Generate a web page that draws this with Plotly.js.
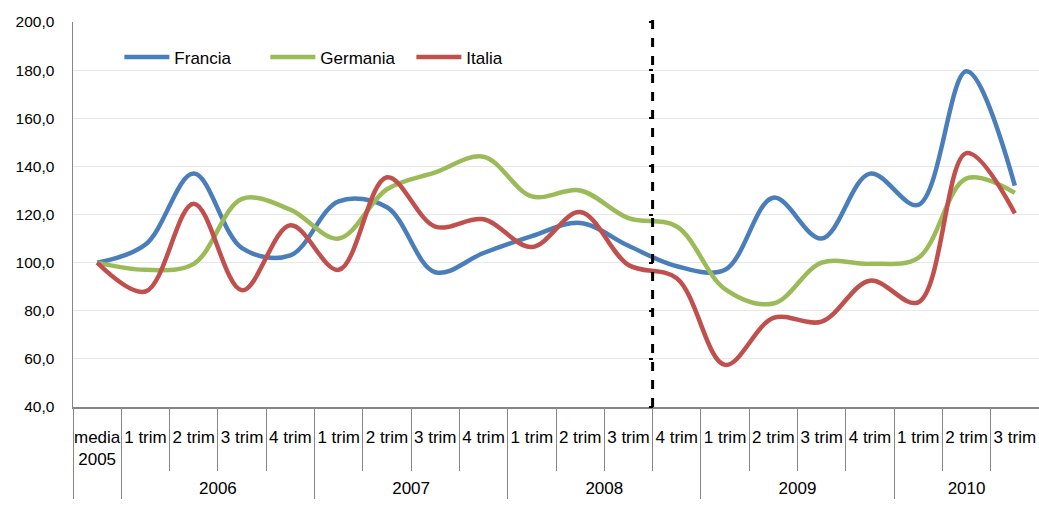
<!DOCTYPE html>
<html><head><meta charset="utf-8">
<script src="https://cdn.plot.ly/plotly-3.0.1.min.js"></script>
<style>html,body{margin:0;padding:0;background:#fff}#chart{width:1039px;height:510px}</style>
</head><body><div id="chart"></div>
<script>
const years = [" ", "2006","2006","2006","2006","2007","2007","2007","2007","2008","2008","2008","2008","2009","2009","2009","2009","2010","2010","2010"];
const quarters = ["media<br>2005","1 trim","2 trim","3 trim","4 trim","1 trim","2 trim","3 trim","4 trim","1 trim","2 trim","3 trim","4 trim","1 trim","2 trim","3 trim","4 trim","1 trim","2 trim","3 trim"];
const francia  = [100, 107.5, 137, 106, 103, 125.5, 123, 96, 104, 111, 116.5, 107, 98.5, 97, 127, 110, 137, 124, 179.5, 132];
const germania = [100, 97, 99.5, 126.5, 122, 110, 130.5, 137.5, 144, 127.5, 130, 118.5, 115, 89, 83, 100, 99.5, 102, 135, 129];
const italia   = [100, 88, 124.5, 88.5, 115.5, 97, 135.5, 115, 118, 106.5, 121, 99, 93.5, 57.5, 77, 75.5, 92.5, 83.5, 145.5, 120.5];
const seriesNames = ["Francia","Germania","Italia"];
const seriesColors = ["#4A7EBB","#9BBB59","#C0504D"];
const seriesData = [francia, germania, italia];
const dividerIndex = 12; // boundary before "4 trim 2008"
const n = years.length;
const idx = years.map((_,i)=>i);
const yearLabels = years.map(y => "<br>" + y);

const font = "Liberation Sans, Arial, sans-serif";
const traces = seriesData.map((d,i)=>({
  type:"scatter", mode:"lines", name:seriesNames[i],
  x:[yearLabels, quarters], y:d,
  line:{color:seriesColors[i], width:4.5, shape:"spline", smoothing:1}
}));
// invisible trace carrying the helper axes (category boundary ticks, dashed-line ticks)
traces.push({type:"scatter", mode:"lines", x:idx, y:francia, xaxis:"x2", yaxis:"y2", showlegend:false, hoverinfo:"skip", line:{width:0}, opacity:0});

const layout = {
  width:1039, height:510,
  margin:{l:73, r:0, t:22, b:103},
  paper_bgcolor:"#fff", plot_bgcolor:"#fff",
  font:{family:font, size:17, color:"#000"},
  separators:", ",
  showlegend:true,
  legend:{orientation:"h", x:0.048, y:0.955, xanchor:"left", yanchor:"top", font:{size:17}, bgcolor:"rgba(0,0,0,0)", itemwidth:45, entrywidth:86, entrywidthmode:"pixels", tracegroupgap:0},
  xaxis:{type:"multicategory", range:[-0.5, n-0.5], showline:true, linecolor:"#868686", linewidth:1.5, tickangle:0,
    ticks:"", ticklabelstandoff:14, showgrid:false, showdividers:true, dividercolor:"#868686", dividerwidth:1,
    tickfont:{size:17}, zeroline:false},
  xaxis2:{overlaying:"x", anchor:"y", side:"bottom", range:[-0.5, n-0.5], tick0:0.5, dtick:1,
    ticks:"outside", ticklen:63, tickcolor:"#868686", tickwidth:1, showticklabels:false, showgrid:false, showline:false, zeroline:false},
  yaxis:{range:[40,200], dtick:20, tickformat:".1f", showline:true, linecolor:"#868686", linewidth:1.5,
    showgrid:true, gridcolor:"#e8e8e8", gridwidth:1, zeroline:false, ticks:"", ticklabelstandoff:14, tickfont:{size:15.5}},
  yaxis2:{overlaying:"y", anchor:"free", position:dividerIndex/n, side:"left", range:[40,200], dtick:20,
    showticklabels:false, ticks:"outside", ticklen:4, tickwidth:2, tickcolor:"#000", showgrid:false, showline:false, zeroline:false},
  shapes:[{type:"line", xref:"paper", yref:"paper", x0:dividerIndex/n, x1:dividerIndex/n, y0:0, y1:1.005,
    line:{color:"#000", width:3, dash:"dash"}}]
};
Plotly.newPlot("chart", traces, layout, {displayModeBar:false, staticPlot:true});
</script></body></html>
